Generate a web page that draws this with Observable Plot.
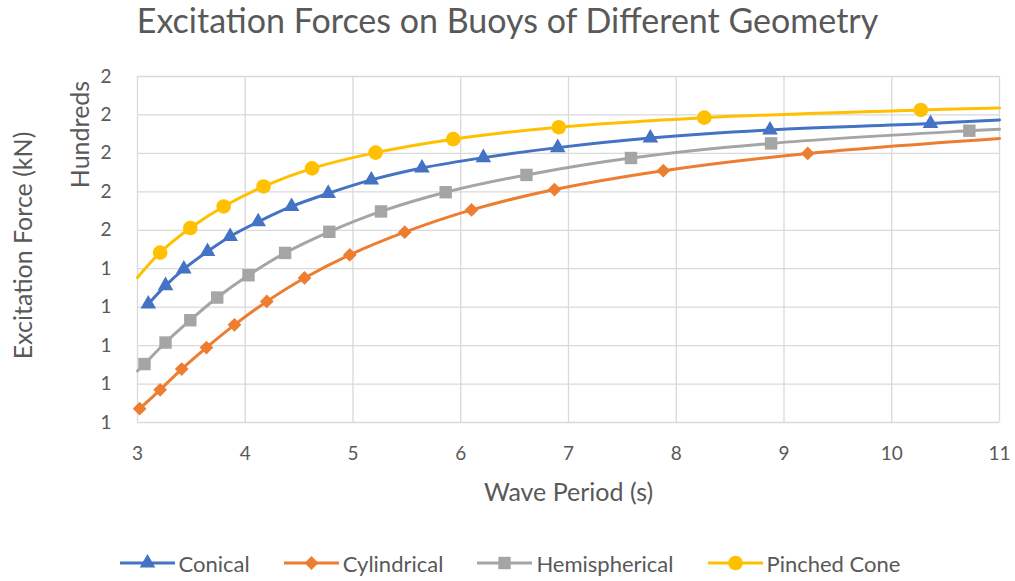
<!DOCTYPE html>
<html><head><meta charset="utf-8">
<script src="https://cdn.jsdelivr.net/npm/d3@7"></script>
<script src="https://cdn.jsdelivr.net/npm/@observablehq/plot@0.6"></script>
<style>
body{margin:0;background:#fff;font-family:Lato,"Open Sans",sans-serif;color:#595959;width:1015px;height:581px;overflow:hidden}
#title{height:58px;line-height:40px;text-align:center;font-size:34px;font-weight:400;white-space:nowrap}
#chart{height:472px}
#legend{height:51px;display:flex;justify-content:center;align-items:center;gap:34px;font-size:22px;padding-top:15px;padding-left:5px;box-sizing:border-box}
.item{display:flex;align-items:center;gap:4px}
</style></head>
<body>
<div id="title">Excitation Forces on Buoys of Different Geometry</div>
<div id="chart"></div>
<div id="legend"></div>
<script>
// Wave period (s) and excitation force (kN)
const conicalT = [3.10,3.26,3.43,3.65,3.86,4.12,4.43,4.77,5.17,5.64,6.21,6.90,7.76,8.87,10.36];
const conicalF = [130.8,135.6,139.9,144.5,148.4,152.2,156.2,159.6,163.1,166.2,168.9,171.5,174.0,176.1,177.8];
const conicalEdgeT = [11];
const conicalEdgeF = [178.7];

const cylindricalT = [3.02,3.21,3.41,3.64,3.90,4.20,4.55,4.97,5.48,6.10,6.87,7.88,9.22];
const cylindricalF = [103.6,108.5,113.9,119.5,125.4,131.5,137.6,143.6,149.5,155.3,160.6,165.5,170.0];
const cylindricalEdgeT = [11];
const cylindricalEdgeF = [173.9];

const hemisphericalT = [3.065,3.26,3.49,3.74,4.03,4.37,4.78,5.26,5.86,6.61,7.58,8.88,10.72];
const hemisphericalF = [115.2,120.8,126.6,132.5,138.3,144.1,149.6,154.9,159.9,164.4,168.8,172.6,175.9];
const hemisphericalEdgeT = [3, 11];
const hemisphericalEdgeF = [113.4, 176.3];

const pinchedT = [3.21,3.49,3.80,4.17,4.62,5.21,5.93,6.91,8.26,10.27];
const pinchedF = [144.2,150.6,156.2,161.4,166.1,170.2,173.7,176.8,179.3,181.3];
const pinchedEdgeT = [3, 11];
const pinchedEdgeF = [137.7, 181.8];

const xTicks = [3,4,5,6,7,8,9,10,11];
const yTicks = [100,110,120,130,140,150,160,170,180,190];

const series = [
  {name:"Conical", color:"#4472C4", symbol:"triangle", r:5.8, T:conicalT, F:conicalF, eT:conicalEdgeT, eF:conicalEdgeF},
  {name:"Cylindrical", color:"#ED7D31", symbol:"diamond2", r:6.2, T:cylindricalT, F:cylindricalF, eT:cylindricalEdgeT, eF:cylindricalEdgeF},
  {name:"Hemispherical", color:"#A5A5A5", symbol:"square", r:7.0, T:hemisphericalT, F:hemisphericalF, eT:hemisphericalEdgeT, eF:hemisphericalEdgeF},
  {name:"Pinched Cone", color:"#FFC000", symbol:"circle", r:7.3, T:pinchedT, F:pinchedF, eT:pinchedEdgeT, eF:pinchedEdgeF}
];

const marks = [
  Plot.gridX(xTicks, {stroke:"#d9d9d9", strokeOpacity:1, strokeWidth:1.3}),
  Plot.gridY(yTicks, {stroke:"#d9d9d9", strokeOpacity:1, strokeWidth:1.3}),
  Plot.axisX(xTicks, {tickSize:0, tickPadding:24, fontSize:19, label:null}),
  Plot.axisY(yTicks, {tickSize:0, tickPadding:26, fontSize:19, label:null, tickFormat:d => String(Math.round(d/100))}),
  Plot.text(["Wave Period (s)"], {frameAnchor:"bottom", dy:70, lineAnchor:"middle", textAnchor:"middle", fontSize:25, fill:"#595959"}),
  Plot.text(["Hundreds"], {frameAnchor:"top-left", dx:-57, dy:58, rotate:-90, textAnchor:"middle", lineAnchor:"middle", fontSize:25, fill:"#595959"}),
  Plot.text(["Excitation Force (kN)"], {frameAnchor:"left", dx:-114, dy:-4, rotate:-90, textAnchor:"middle", lineAnchor:"middle", fontSize:25, fill:"#595959"})
];
for (const s of series) {
  const pts = s.T.map((t,i) => ({t, f:s.F[i]}));
  const line = pts.concat(s.eT.map((t,i) => ({t, f:s.eF[i]}))).sort((a,b) => a.t - b.t);
  marks.push(Plot.line(line, {x:"t", y:"f", stroke:s.color, strokeWidth:3, curve:"catmull-rom"}));
}
for (const s of series) {
  const pts = s.T.map((t,i) => ({t, f:s.F[i]}));
  marks.push(Plot.dot(pts, {x:"t", y:"f", fill:s.color, stroke:"none", symbol:() => s.symbol, r:s.r}));
}

const chart = Plot.plot({
  width:1015, height:472,
  marginLeft:137, marginRight:16, marginTop:18, marginBottom:108,
  x:{domain:[3,11]},
  y:{domain:[100,190]},
  style:{fontFamily:"Lato, 'Open Sans', sans-serif", color:"#595959", fontSize:"19px", background:"white", overflow:"visible"},
  marks
});
document.getElementById("chart").appendChild(chart);

// legend
const leg = document.getElementById("legend");
const symPath = {triangle:d3.symbolTriangle, diamond2:d3.symbolDiamond2, square:d3.symbolSquare, circle:d3.symbolCircle};
for (const s of series) {
  const item = document.createElement("div");
  item.className = "item";
  const path = d3.symbol(symPath[s.symbol], s.r*s.r*Math.PI)();
  item.innerHTML = `<svg width="55" height="18" viewBox="0 0 55 18"><line x1="0" x2="55" y1="9" y2="9" stroke="${s.color}" stroke-width="3"/><path d="${path}" transform="translate(27.5,9)" fill="${s.color}"/></svg><span>${s.name}</span>`;
  leg.appendChild(item);
}
</script>
</body></html>
